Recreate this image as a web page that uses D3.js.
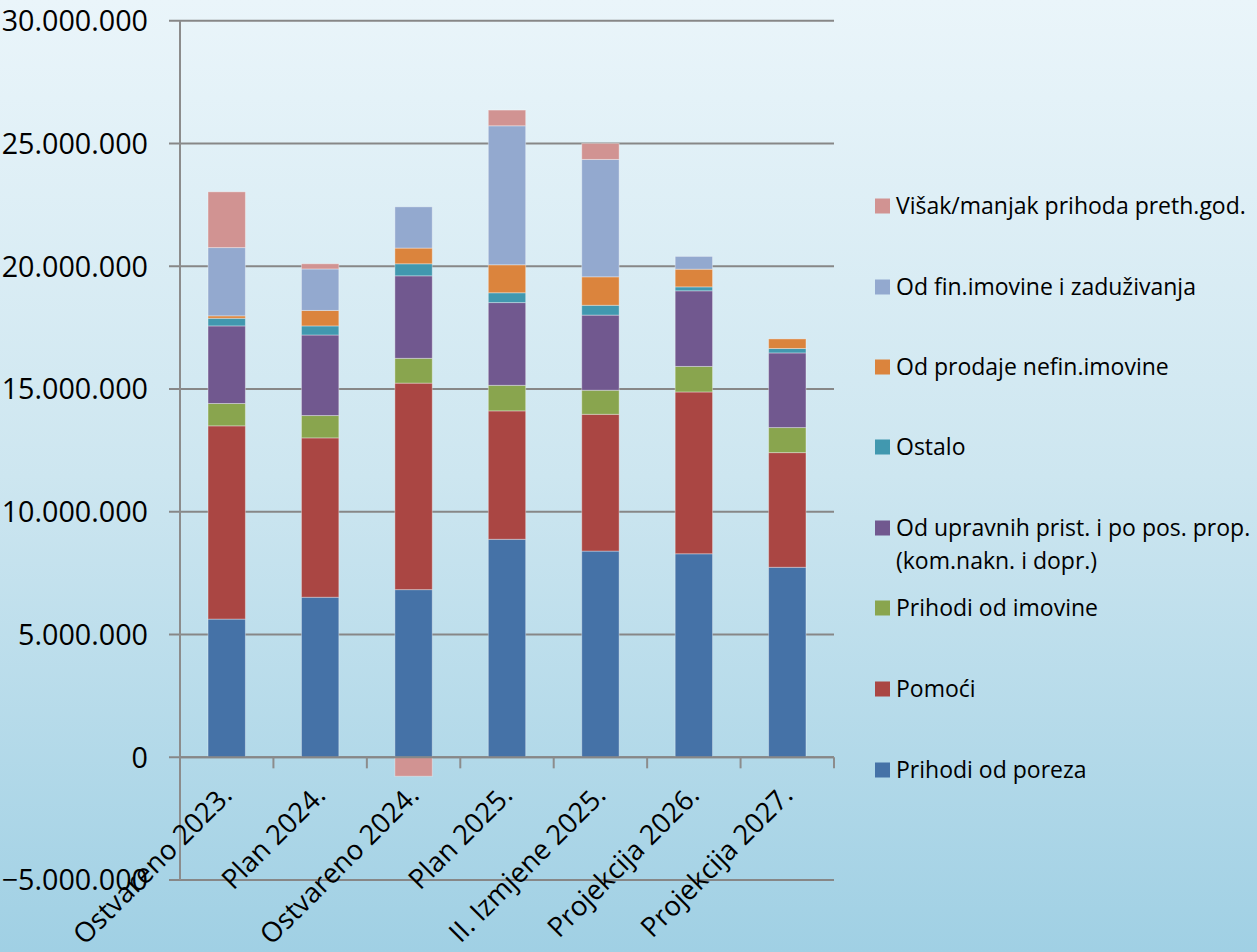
<!DOCTYPE html>
<html><head><meta charset="utf-8">
<script src="https://cdn.jsdelivr.net/npm/d3@7"></script>
<style>html,body{margin:0;padding:0;overflow:hidden;}svg{display:block;}</style>
</head><body>
<script>
const categories = ["Ostvareno 2023.","Plan 2024.","Ostvareno 2024.","Plan 2025.","II. Izmjene 2025.","Projekcija 2026.","Projekcija 2027."];
const prihodiOdPoreza   = [5630000, 6520000, 6830000, 8880000, 8400000, 8290000, 7740000];
const pomoci            = [7870000, 6490000, 8410000, 5230000, 5570000, 6590000, 4670000];
const prihodiOdImovine  = [910000, 910000, 1010000, 1040000, 980000, 1040000, 1020000];
const odUpravnih        = [3160000, 3280000, 3360000, 3370000, 3060000, 3080000, 3040000];
const ostalo            = [310000, 370000, 490000, 400000, 400000, 160000, 180000];
const odProdaje         = [100000, 630000, 640000, 1140000, 1160000, 720000, 390000];
const odFinImovine      = [2780000, 1690000, 1680000, 5660000, 4780000, 520000, 0];
const visakManjak       = [2270000, 210000, -770000, 640000, 650000, 0, 0];
const yTicks = [-5000000, 0, 5000000, 10000000, 15000000, 20000000, 25000000, 30000000];

const seriesNames = ["Prihodi od poreza","Pomoći","Prihodi od imovine","Od upravnih prist. i po pos. prop. (kom.nakn. i dopr.)","Ostalo","Od prodaje nefin.imovine","Od fin.imovine i zaduživanja","Višak/manjak prihoda preth.god."];
const seriesValues = [prihodiOdPoreza, pomoci, prihodiOdImovine, odUpravnih, ostalo, odProdaje, odFinImovine, visakManjak];
const colors = ["#4572A7","#AA4643","#89A54E","#71588F","#4198AF","#DB843D","#93A9CF","#D19392"];

const W = 1257, H = 952;
const svg = d3.select("body").append("svg").attr("width", W).attr("height", H);
const defs = svg.append("defs");
const grad = defs.append("linearGradient").attr("id","bg").attr("x1",0).attr("y1",0).attr("x2",0).attr("y2",1);
grad.append("stop").attr("offset","0%").attr("stop-color","#eaf5fa");
grad.append("stop").attr("offset","50%").attr("stop-color","#cde6f0");
grad.append("stop").attr("offset","100%").attr("stop-color","#a0d0e4");
svg.append("rect").attr("width",W).attr("height",H).attr("fill","url(#bg)");

const font = "'Open Sans', 'Noto Sans', sans-serif";
const x = d3.scaleBand().domain(categories).range([180, 834]).paddingInner(0.6).paddingOuter(0.3);
const xOuter = d3.scaleBand().domain(categories).range([180, 834]);
const y = d3.scaleLinear().domain([-5000000, 30000000]).range([880.1, 20.7]);

// gridlines
svg.append("g").selectAll("line").data(yTicks).join("line")
  .attr("x1", 169).attr("x2", 834)
  .attr("y1", d => y(d)).attr("y2", d => y(d))
  .attr("stroke", "#878787").attr("stroke-width", 2);

// y labels
svg.append("g").selectAll("text").data(yTicks).join("text")
  .attr("x", 148).attr("y", d => y(d)).attr("dy", "0.36em")
  .attr("text-anchor", "end").attr("font-family", font).attr("font-size", 28.7).attr("fill", "#000")
  .text(d => d3.format(",")(d).replace(/,/g, "."));

// stack
const rows = categories.map((c, i) => {
  const r = {cat: c};
  seriesNames.forEach((s, j) => r[s] = seriesValues[j][i]);
  return r;
});
const stacked = d3.stack().keys(seriesNames).offset(d3.stackOffsetDiverging)(rows);

svg.append("g").selectAll("g").data(stacked).join("g")
  .attr("fill", (d, i) => colors[i])
  .selectAll("rect").data(d => d.filter(p => p[1] !== p[0])).join("rect")
  .attr("x", d => x(d.data.cat))
  .attr("width", x.bandwidth())
  .attr("y", d => y(Math.max(d[0], d[1])))
  .attr("height", d => Math.abs(y(d[0]) - y(d[1])))
  .attr("stroke", "rgba(255,255,255,0.35)").attr("stroke-width", 1);

// y axis line
svg.append("line").attr("x1", 180).attr("x2", 180).attr("y1", y(30000000)).attr("y2", y(-5000000))
  .attr("stroke", "#8c8c8c").attr("stroke-width", 2);
// x axis at zero
svg.append("line").attr("x1", 180).attr("x2", 834).attr("y1", y(0)).attr("y2", y(0))
  .attr("stroke", "#878787").attr("stroke-width", 2);
const tickPos = categories.map(c => xOuter(c)).concat([834]);
svg.append("g").selectAll("line").data(tickPos).join("line")
  .attr("x1", d => d).attr("x2", d => d).attr("y1", y(0)).attr("y2", y(0) + 11)
  .attr("stroke", "#8c8c8c").attr("stroke-width", 2);

// x labels
svg.append("g").selectAll("text").data(categories).join("text")
  .attr("transform", c => `translate(${x(c) + x.bandwidth()/2 + 7},${797}) rotate(-45)`)
  .attr("text-anchor", "end").attr("font-family", font).attr("font-size", 27.5).attr("fill", "#000")
  .text(c => c);

// legend
const legendItems = seriesNames.map((s, i) => ({name: s, color: colors[i]})).reverse();
const legendY = [206, 287, 367, 447, 528, 608, 689, 770];
const lg = svg.append("g").selectAll("g").data(legendItems).join("g")
  .attr("transform", (d, i) => `translate(875,${legendY[i]})`);
lg.append("rect").attr("x", 0).attr("y", -7.5).attr("width", 15).attr("height", 15).attr("fill", d => d.color);
lg.each(function(d) {
  const g = d3.select(this);
  const lines = d.name.startsWith("Od upravnih") ? ["Od upravnih prist. i po pos. prop.", "(kom.nakn. i dopr.)"] : [d.name];
  lines.forEach((t, k) => {
    g.append("text").attr("x", 21).attr("y", k * 33).attr("dy", "0.36em")
      .attr("font-family", font).attr("font-size", 23).attr("fill", "#000").text(t);
  });
});
</script>
</body></html>
